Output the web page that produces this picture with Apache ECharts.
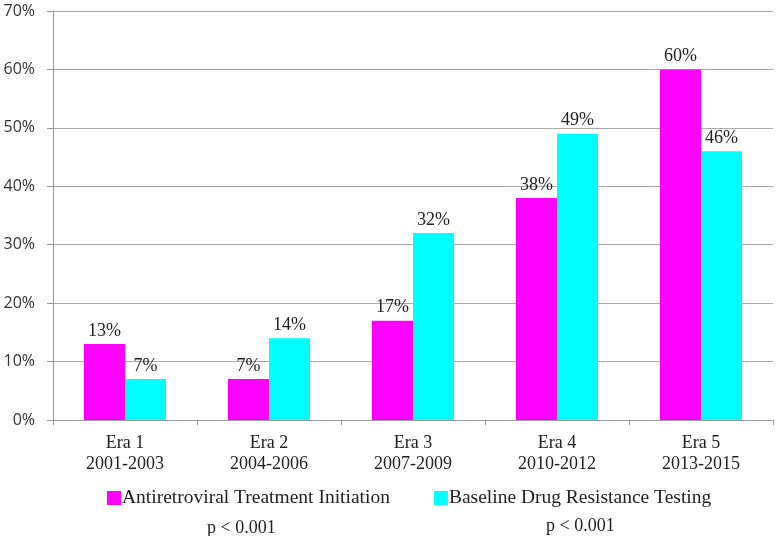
<!DOCTYPE html>
<html><head><meta charset="utf-8">
<script src="https://cdn.jsdelivr.net/npm/echarts@6/dist/echarts.min.js"></script>
<style>html,body{margin:0;padding:0;background:#fff}#c{width:776px;height:536px}</style>
</head><body><div id="c"></div>
<script>
const categories = ['Era 1\n2001-2003','Era 2\n2004-2006','Era 3\n2007-2009','Era 4\n2010-2012','Era 5\n2013-2015'];
const artInitiation = [13, 7, 17, 38, 60];
const drugResistance = [7, 14, 32, 49, 46];
const seriesNames = ['Antiretroviral Treatment Initiation','Baseline Drug Resistance Testing'];
const pValues = ['p < 0.001','p < 0.001'];

const chart = echarts.init(document.getElementById('c'));
const serif = '"Liberation Serif","Times New Roman",serif';
const lbl = {show:true, position:'top', formatter:'{c}%', fontFamily:serif, fontSize:18, color:'#222', distance:4};
chart.setOption({
  animation:false,
  grid:{left:53, right:3, top:11, bottom:116, containLabel:false},
  legend:{
    data:seriesNames, top:483, left:102, itemWidth:14, itemHeight:14, itemGap:44,
    textStyle:{fontFamily:serif, fontSize:19.5, color:'#222', padding:[0,0,0,-4]}, icon:'rect'
  },
  graphic:[
    {type:'text', left:207, top:519, style:{text:pValues[0], font:'18px '+serif, fill:'#222'}},
    {type:'text', left:546, top:517, style:{text:pValues[1], font:'18px '+serif, fill:'#222'}}
  ],
  xAxis:{
    type:'category', data:categories,
    axisLine:{lineStyle:{color:'#999'}},
    axisTick:{show:true, length:5, lineStyle:{color:'#999'}},
    axisLabel:{fontFamily:serif, fontSize:18, color:'#222', lineHeight:21, margin:13}
  },
  yAxis:{
    type:'value', min:0, max:70, interval:10,
    axisLine:{show:true, lineStyle:{color:'#999'}},
    axisTick:{show:true, length:6, lineStyle:{color:'#999'}},
    splitLine:{lineStyle:{color:'#aaa'}},
    axisLabel:{formatter:'{value}%', fontFamily:'"Open Sans","DejaVu Sans",sans-serif', fontSize:16, color:'#333', margin:18}
  },
  series:[
    {name:seriesNames[0], type:'bar', data:artInitiation, barGap:'0%', barCategoryGap:'43%', itemStyle:{color:'#FF00FF'}, label:lbl},
    {name:seriesNames[1], type:'bar', data:drugResistance, itemStyle:{color:'#00FFFF'}, label:lbl}
  ]
});
</script></body></html>
